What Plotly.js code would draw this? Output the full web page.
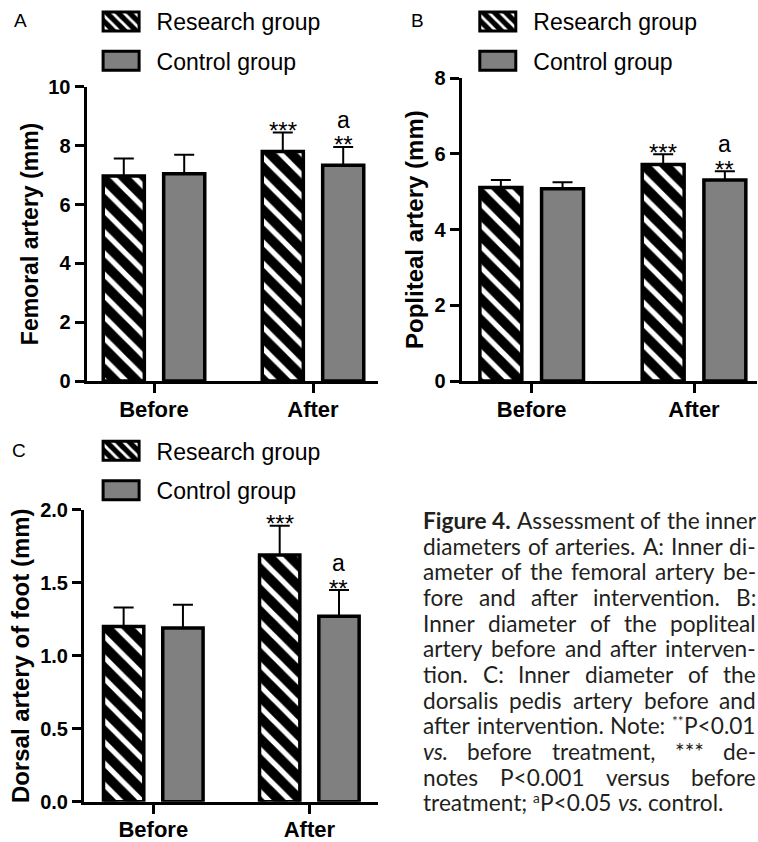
<!DOCTYPE html>
<html><head><meta charset="utf-8">
<script src="https://cdn.plot.ly/plotly-3.0.1.min.js"></script>
<style>html,body{margin:0;padding:0;background:#fff}#chart{width:758px;height:842px}</style>
</head><body><div id="chart"></div>
<script>
// ---------------- data ----------------
const groups = ['Before', 'After'];
const seriesNames = ['Research group', 'Control group'];
// A: femoral artery (mm)
const femoralResearch = [6.97, 7.80];
const femoralResearchSD = [0.60, 0.65];
const femoralControl = [7.05, 7.34];
const femoralControlSD = [0.64, 0.62];
// B: popliteal artery (mm)
const poplitealResearch = [5.11, 5.72];
const poplitealResearchSD = [0.20, 0.27];
const poplitealControl = [5.08, 5.31];
const poplitealControlSD = [0.17, 0.23];
// C: dorsal artery of foot (mm)
const dorsalResearch = [1.20, 1.69];
const dorsalResearchSD = [0.13, 0.20];
const dorsalControl = [1.19, 1.27];
const dorsalControlSD = [0.16, 0.18];
// significance marks
const researchMarks = ['', '***'];
const controlMarks = ['', '**'];
const controlVsMarks = ['', 'a'];
const yTitles = ['Femoral artery (mm)', 'Popliteal artery (mm)', 'Dorsal artery of foot (mm)'];
const panelLetters = ['A', 'B', 'C'];
const captionLines = [
  '<b>Figure</b> <b>4.</b> Assessment of the inner',
  'diameters of arteries. A: Inner di-',
  'ameter of the femoral artery be-',
  'fore and after intervention. B:',
  'Inner diameter of the popliteal',
  'artery before and after interven-',
  'tion. C: Inner diameter of the',
  'dorsalis pedis artery before and',
  'after intervention. Note: <sup>**</sup>P&lt;0.01',
  '<i>vs.</i> before treatment, *** de-',
  'notes P&lt;0.001 versus before',
  'treatment; <sup>a</sup>P&lt;0.05 <i>vs.</i> control.'
];

// ---------------- styling / layout ----------------
const FONT = 'Liberation Sans, Arial, sans-serif';
const CAP_FONT = 'Lato';
const W = 758, H = 842;
const BARGAP = 0.24, BARGROUPGAP = 0.32;
const SUP_SCALE = 0.6;

const panels = [
  {xa:'x', ya:'y', leg:'legend', r:femoralResearch, rsd:femoralResearchSD, c:femoralControl, csd:femoralControlSD,
   xdom:[86.5, 378], ydom:[380.5, 86], xr:[-0.4245, 1.4088], yr:[0, 10], dtick:2, fmt:'', tfs:23, xstand:-2,
   legX:85.6, legY:-0.8, letter:[20, 19.5]},
  {xa:'x2', ya:'y2', leg:'legend2', r:poplitealResearch, rsd:poplitealResearchSD, c:poplitealControl, csd:poplitealControlSD,
   xdom:[461.5, 757], ydom:[380.5, 77.3], xr:[-0.4325, 1.388], yr:[0, 8], dtick:2, fmt:'', tfs:24, xstand:-2,
   legX:462.3, legY:-0.3, letter:[417.5, 19.5]},
  {xa:'x3', ya:'y3', leg:'legend3', r:dorsalResearch, rsd:dorsalResearchSD, c:dorsalControl, csd:dorsalControlSD,
   xdom:[84, 378], ydom:[801.8, 509.3], xr:[-0.444, 1.44], yr:[0, 2], dtick:0.5, fmt:'.1f', tfs:24, xstand:-3,
   legX:85.6, legY:429.3, letter:[18.5, 450]}
];

const px2x = p => p / W;
const px2y = p => 1 - p / H;
const off = (1 - BARGAP) / 4;

function build() {
  const data = [];
  const layout = {
    width: W, height: H, margin:{l:0, r:0, t:0, b:0},
    paper_bgcolor:'white', plot_bgcolor:'rgba(0,0,0,0)',
    barmode:'group', bargap:BARGAP, bargroupgap:BARGROUPGAP,
    font:{family:FONT, color:'black'},
    showlegend:true,
    annotations:[]
  };

  panels.forEach((p, i) => {
    const sfx = i === 0 ? '' : String(i + 1);
    data.push({
      type:'bar', x:groups, y:p.r, name:seriesNames[0], xaxis:p.xa, yaxis:p.ya,
      legend:p.leg, legendgroup:'r' + i,
      marker:{color:'black', line:{color:'black', width:3.5},
        pattern:{shape:'\\', fgcolor:'white', bgcolor:'black', size:15, solidity:0.35, fillmode:'replace'}},
      error_y:{type:'data', symmetric:false, array:p.rsd, arrayminus:[0, 0], color:'black', thickness:2, width:10}
    });
    data.push({
      type:'bar', x:groups, y:p.c, name:seriesNames[1], xaxis:p.xa, yaxis:p.ya,
      legend:p.leg, legendgroup:'c' + i,
      marker:{color:'#808080', line:{color:'black', width:3.5}},
      error_y:{type:'data', symmetric:false, array:p.csd, arrayminus:[0, 0], color:'black', thickness:2, width:10}
    });
    layout['xaxis' + sfx] = {
      type:'category', domain:[px2x(p.xdom[0]), px2x(p.xdom[1])], range:p.xr, anchor:'y' + sfx,
      showline:true, linewidth:3, linecolor:'black', ticks:'outside', ticklen:9, tickwidth:3, tickcolor:'black',
      ticklabelstandoff:p.xstand,
      showgrid:false, zeroline:false, tickfont:{size:22, family:FONT, weight:'bold', color:'black'}
    };
    layout['yaxis' + sfx] = {
      domain:[px2y(p.ydom[0]), px2y(p.ydom[1])], range:p.yr, anchor:'x' + sfx, dtick:p.dtick, tick0:0,
      tickformat:p.fmt, showline:true, linewidth:3, linecolor:'black', ticks:'outside', ticklen:9, tickwidth:3,
      tickcolor:'black', showgrid:false, zeroline:false,
      tickfont:{size:20, family:FONT, weight:'bold', color:'black'},
      title:{text:yTitles[i], font:{size:p.tfs, family:FONT, weight:'bold', color:'black'}, standoff:4}
    };
    layout[p.leg] = {
      x:px2x(p.legX), xanchor:'left', y:px2y(p.legY), yanchor:'top',
      font:{size:23, family:FONT, color:'black'}, itemwidth:61, tracegroupgap:6.5,
      bgcolor:'rgba(0,0,0,0)', borderwidth:0, traceorder:'grouped'
    };
    layout.annotations.push({text:panelLetters[i], xref:'paper', yref:'paper', x:px2x(p.letter[0]), y:px2y(p.letter[1]),
      xanchor:'center', yanchor:'middle', showarrow:false, borderpad:0, borderwidth:0, font:{size:19, family:FONT, color:'black'}});
    groups.forEach((g, k) => {
      if (researchMarks[k]) layout.annotations.push({text:researchMarks[k], xref:p.xa, yref:p.ya, x:k - off, y:p.r[k] + p.rsd[k],
        xanchor:'center', yanchor:'middle', yshift:2, showarrow:false, borderpad:0, borderwidth:0, font:{size:24, family:FONT, color:'black'}});
      if (controlMarks[k]) layout.annotations.push({text:controlMarks[k], xref:p.xa, yref:p.ya, x:k + off, y:p.c[k] + p.csd[k],
        xanchor:'center', yanchor:'middle', yshift:2, showarrow:false, borderpad:0, borderwidth:0, font:{size:24, family:FONT, color:'black'}});
      if (controlVsMarks[k]) layout.annotations.push({text:controlVsMarks[k], xref:p.xa, yref:p.ya, x:k + off, y:p.c[k] + p.csd[k],
        xanchor:'center', yanchor:'middle', yshift:27, showarrow:false, borderpad:0, borderwidth:0, font:{size:23, family:FONT, color:'black'}});
    });
  });

  // ---------------- caption (justified, word by word) ----------------
  const capLeft = 423, capRight = 756, capTop = 520, capStep = 25.7;
  const ctx = document.createElement('canvas').getContext('2d');
  const parseWord = w => {
    const segs = []; const re = /<(b|i|sup)>(.*?)<\/\1>|([^<]+)/g; let m;
    while ((m = re.exec(w))) {
      if (m[1]) segs.push({t:m[2].replace(/&lt;/g, '<'), h:m[2], s:m[1]});
      else segs.push({t:m[3].replace(/&lt;/g, '<'), h:m[3], s:''});
    }
    return segs;
  };
  const segW = (seg, fs) => {
    const size = seg.s === 'sup' ? fs * SUP_SCALE : fs;
    ctx.font = (seg.s === 'i' ? 'italic ' : '') + (seg.s === 'b' ? '700 ' : '400 ') + size + 'px ' + CAP_FONT;
    return ctx.measureText(seg.t).width + (seg.s === 'sup' ? 0.5 : 0);
  };
  const wordW = (w, fs) => parseWord(w).reduce((a, s) => a + segW(s, fs), 0);
  const spaceW = fs => { ctx.font = '400 ' + fs + 'px ' + CAP_FONT; return ctx.measureText(' ').width; };
  const avail = capRight - capLeft;
  // one font size for the whole caption: the widest line (normal spaces) fills the column
  let fs = 24;
  for (let it = 0; it < 4; it++) {
    let maxNat = 0;
    captionLines.slice(0, -1).forEach(line => {
      const words = line.split(' ');
      const nat = words.reduce((a, w) => a + wordW(w, fs), 0) + (words.length - 1) * spaceW(fs);
      maxNat = Math.max(maxNat, nat);
    });
    fs *= avail / maxNat;
  }
  captionLines.forEach((line, li) => {
    const words = line.split(' ');
    const widths = words.map(w => wordW(w, fs));
    const total = widths.reduce((a, b) => a + b, 0);
    const last = li === captionLines.length - 1;
    const gap = last ? spaceW(fs) : (avail - total) / (words.length - 1);
    const yc = px2y(capTop + li * capStep);
    let xpos = capLeft;
    words.forEach((w, wi) => {
      // superscripts become their own smaller, raised text; the rest of the word stays together
      let sx = xpos, buf = '';
      const flush = () => {
        if (!buf) return;
        layout.annotations.push({text:buf, xref:'paper', yref:'paper', x:px2x(sx), y:yc,
          xanchor:'left', yanchor:'middle', showarrow:false, borderpad:0, borderwidth:0,
          font:{size:fs, family:CAP_FONT, color:'#231f20'}});
        buf = '';
      };
      let cx = xpos;
      parseWord(w).forEach(seg => {
        const sw = segW(seg, fs);
        if (seg.s === 'sup') {
          flush();
          layout.annotations.push({text:seg.h, xref:'paper', yref:'paper', x:px2x(cx), y:yc,
            xanchor:'left', yanchor:'middle', yshift:4.5, showarrow:false, borderpad:0, borderwidth:0,
            font:{size:fs * SUP_SCALE, family:CAP_FONT, color:'#231f20'}});
          cx += sw; sx = cx;
        } else {
          if (!buf) sx = cx;
          buf += seg.s ? '<' + seg.s + '>' + seg.h + '</' + seg.s + '>' : seg.h;
          cx += sw;
        }
      });
      flush();
      xpos += widths[wi] + gap;
    });
  });

  Plotly.newPlot('chart', data, layout, {staticPlot:true, displayModeBar:false}).then(gd => {
    gd.querySelectorAll('.legendpoints path').forEach(p => {
      p.setAttribute('d', 'M18,9.5H-18V-9.5H18Z');
      p.style.strokeWidth = '3px';
    });
  });
}

const fontLoads = document.fonts ? Promise.all([
  document.fonts.load('400 20px Lato'), document.fonts.load('700 20px Lato'), document.fonts.load('italic 400 20px Lato')
]).catch(() => null) : Promise.resolve();
fontLoads.then(build, build);
</script>
</body></html>
